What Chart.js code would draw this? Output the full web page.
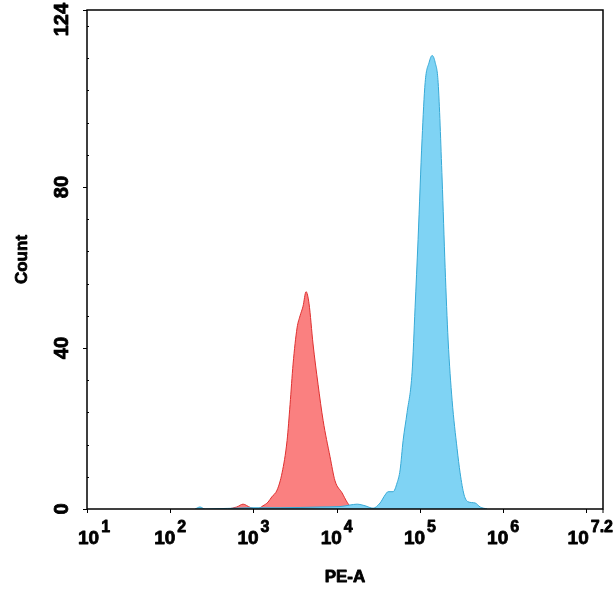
<!DOCTYPE html>
<html>
<head>
<meta charset="utf-8">
<script src="https://cdn.jsdelivr.net/npm/chart.js@4"></script>
<style>
  html, body { margin: 0; padding: 0; background: #fff; }
  #wrap { width: 616px; height: 596px; }
</style>
</head>
<body>
<div id="wrap"><canvas id="histo" width="616" height="596"></canvas></div>
<script>
// PE-A fluorescence (linear units) and event counts
const redPE = [495, 631, 750, 912, 1096, 1303, 1496, 1660, 1923, 2208, 2535, 2754, 2992,
  3342, 3631, 3945, 4285, 4656, 5200, 5970, 6871, 8318, 9550, 11610, 13340, 15310, 18070];
const redCount = [0, 0.5, 1.2, 0.4, 0, 0.8, 1.7, 3, 4.7, 9, 17, 26, 36,
  45, 48, 50.4, 54, 51, 41, 31, 22, 13, 7, 4, 1.7, 0.2, 0];

const bluePE = [199, 228, 262, 910, 2089, 6310, 10960, 14490, 17580, 21930, 27400, 33250,
  38190, 41500, 47640, 53210, 57810, 62810, 70150, 80540, 87500, 95060, 106200, 115600,
  129100, 140300, 152400, 165600, 184900, 200900, 218300, 243800, 279900, 304100, 339600,
  379300, 460300, 529600, 642700];
const blueCount = [0, 0.5, 0, 0.3, 0.3, 0.5, 0.6, 1, 1.2, 0.8, 0.2, 1.5,
  3.5, 4.3, 4.3, 6.5, 9.7, 17, 24, 34, 50, 67, 92, 106,
  111, 112.7, 111, 106, 82, 60, 42, 27, 15, 9, 3.5,
  1.8, 1.5, 0.5, 0];

// axis ticks
const xMin = 10, xMax = 15848932;           // 10^1 .. 10^7.2
const xLabelValues = [1e1, 1e2, 1e3, 1e4, 1e5, 1e6, 15848932];
const xLabelExps = ['1', '2', '3', '4', '5', '6', '7.2'];
const yTickValues = [0, 8, 16, 24, 32, 40, 48, 56, 64, 72, 80, 88, 96, 104, 112, 120, 124];
const yLabelValues = [0, 40, 80, 124];

const toPoints = (xs, ys) => xs.map((v, i) => ({x: v, y: ys[i]}));
const FONT = '"Liberation Sans", Arial, sans-serif';

// heavy text: fill plus a thin stroke so it reads like the original's black face
function heavyText(ctx, txt, x, y) {
  ctx.fillText(txt, x, y);
  ctx.strokeText(txt, x, y);
}

const axesPlugin = {
  id: 'axesPlugin',
  afterDraw(chart) {
    const {ctx, chartArea: a, scales: {x, y}} = chart;
    ctx.save();
    ctx.strokeStyle = '#000';
    ctx.fillStyle = '#000';

    // frame
    ctx.lineWidth = 1.5;
    ctx.strokeRect(a.left, a.top, a.right - a.left, a.bottom - a.top);

    // x ticks (log)
    ctx.lineWidth = 1;
    x.ticks.forEach(t => {
      if (t.value > xMax) return;
      const e = Math.log10(t.value);
      const major = Math.abs(e - Math.round(e)) < 1e-9;
      const px = Math.round(x.getPixelForValue(t.value)) + 0.5;
      ctx.beginPath();
      ctx.moveTo(px, a.bottom);
      ctx.lineTo(px, a.bottom + (major ? 4 : 2));
      ctx.stroke();
    });
    const endPx = x.getPixelForValue(xMax);
    ctx.beginPath(); ctx.moveTo(endPx, a.bottom); ctx.lineTo(endPx, a.bottom + 4); ctx.stroke();

    // y ticks
    yTickValues.forEach(v => {
      const py = Math.round(y.getPixelForValue(v)) + 0.5;
      ctx.beginPath();
      if (yLabelValues.includes(v)) {
        ctx.moveTo(a.left - 4, py); ctx.lineTo(a.left, py);
      } else {
        ctx.moveTo(a.left, py); ctx.lineTo(a.left + 2, py);
      }
      ctx.stroke();
    });

    ctx.lineWidth = 0.8;
    ctx.lineJoin = 'round';

    // x tick labels: 10 with raised exponent
    const baseFont = 'bold 19px ' + FONT, expFont = 'bold 16px ' + FONT;
    ctx.textBaseline = 'alphabetic';
    ctx.textAlign = 'left';
    xLabelValues.forEach((v, i) => {
      ctx.font = baseFont;
      const wb = ctx.measureText('10').width;
      ctx.font = expFont;
      const we = ctx.measureText(xLabelExps[i]).width;
      const total = wb + 2 + we;
      let left = x.getPixelForValue(v) - total / 2;
      left = Math.max(78, Math.min(left, 613 - total));
      ctx.font = baseFont;
      heavyText(ctx, '10', left, 544);
      ctx.font = expFont;
      heavyText(ctx, xLabelExps[i], left + wb + 2, 532);
    });

    // y tick labels, rotated
    ctx.font = 'bold 20px ' + FONT;
    ctx.textAlign = 'center';
    ctx.textBaseline = 'middle';
    yLabelValues.forEach(v => {
      const txt = String(v);
      const w = ctx.measureText(txt).width;
      let cy = y.getPixelForValue(v);
      cy = Math.max(cy, 3 + w / 2);
      ctx.save();
      ctx.translate(62, cy);
      ctx.rotate(-Math.PI / 2);
      heavyText(ctx, txt, 0, 0);
      ctx.restore();
    });

    // axis titles
    ctx.font = 'bold 17px ' + FONT;
    heavyText(ctx, 'PE-A', (a.left + a.right) / 2, 577);
    ctx.save();
    ctx.translate(22, (a.top + a.bottom) / 2);
    ctx.rotate(-Math.PI / 2);
    heavyText(ctx, 'Count', 0, 0);
    ctx.restore();

    ctx.restore();
  }
};

new Chart(document.getElementById('histo'), {
  type: 'line',
  data: {
    datasets: [
      {
        label: 'Positive',
        data: toPoints(bluePE, blueCount),
        borderColor: '#36a9d6',
        backgroundColor: '#7fd3f4',
        borderWidth: 1,
        fill: 'origin',
        pointRadius: 0,
        cubicInterpolationMode: 'monotone'
      },
      {
        label: 'Control',
        data: toPoints(redPE, redCount),
        borderColor: '#de2f2f',
        backgroundColor: '#fa8080',
        borderWidth: 1,
        fill: 'origin',
        pointRadius: 0,
        cubicInterpolationMode: 'monotone'
      }
    ]
  },
  options: {
    responsive: false,
    animation: false,
    layout: { padding: { left: 87, right: 13, top: 10, bottom: 87 } },
    plugins: {
      legend: { display: false },
      tooltip: { enabled: false }
    },
    scales: {
      x: { type: 'logarithmic', min: xMin, max: xMax, display: false },
      y: {
        type: 'linear', min: 0, max: 124, display: false,
        afterBuildTicks: s => { s.ticks = yTickValues.map(v => ({value: v})); }
      }
    }
  },
  plugins: [axesPlugin]
});
</script>
</body>
</html>
